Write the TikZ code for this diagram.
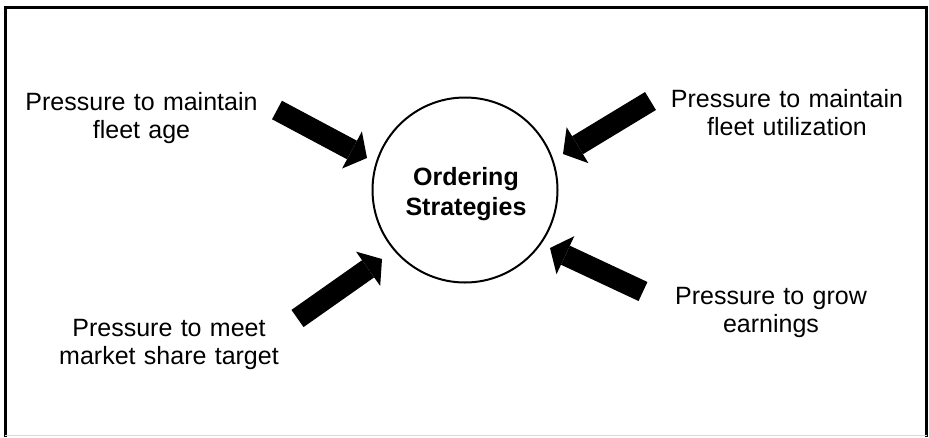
\documentclass[tikz,border=0pt]{standalone}
\usepackage{fontspec}
\setmainfont{Liberation Sans}
\usetikzlibrary{arrows.meta}

\tikzset{
  label text/.style={inner sep=0pt, text width=280pt, align=center, anchor=base,
    font=\fontsize{25}{28}\selectfont},
  hub text/.style={inner sep=0pt, text width=200pt, align=center, anchor=base,
    font=\fontsize{25}{30}\selectfont\bfseries},
  hub/.style={circle, draw=black, line width=2pt, minimum size=185pt, inner sep=0pt},
  pressure/.style={line width=21pt, line cap=butt,
    -{Triangle[width=42pt, length=17pt, line width=0pt]}},
  frame/.style={line width=3pt, draw=black}
}

\begin{document}
\begin{tikzpicture}[x=1pt, y=-1pt]
  \useasboundingbox (0,0) rectangle (929,437);

  % outer frame
  \draw[frame] (5.5,437) -- (5.5,7.5) -- (926.5,7.5) -- (926.5,437);
  \draw[black!15, line width=1pt] (5,435.5) -- (927,435.5);

  % central circle and its caption
  \node[hub] (hub) at (465,190) {};
  \node[hub text] (hubtext) at (466,185) {Ordering\\Strategies};

  % the four pressures
  \node[label text] (age)    at (141.5,110) {Pressure to maintain\\fleet age};
  \node[label text] (util)   at (787,107)   {Pressure to maintain\\fleet utilization};
  \node[label text] (share)  at (169,336)   {Pressure to meet\\market share target};
  \node[label text] (growth) at (771,304)   {Pressure to grow\\earnings};

  % arrow ends
  \coordinate (ageTail)    at (277,110);
  \coordinate (ageTip)     at (367,158);
  \coordinate (utilTail)   at (650.5,101);
  \coordinate (utilTip)    at (563,154);
  \coordinate (shareTail)  at (297.5,318.5);
  \coordinate (shareTip)   at (382,259);
  \coordinate (growthTail) at (643,291.5);
  \coordinate (growthTip)  at (550,248);

  % block arrows pointing at the circle
  \draw[pressure] (ageTail) -- (ageTip);
  \draw[pressure] (utilTail) -- (utilTip);
  \draw[pressure] (shareTail) -- (shareTip);
  \draw[pressure] (growthTail) -- (growthTip);
\end{tikzpicture}
\end{document}
